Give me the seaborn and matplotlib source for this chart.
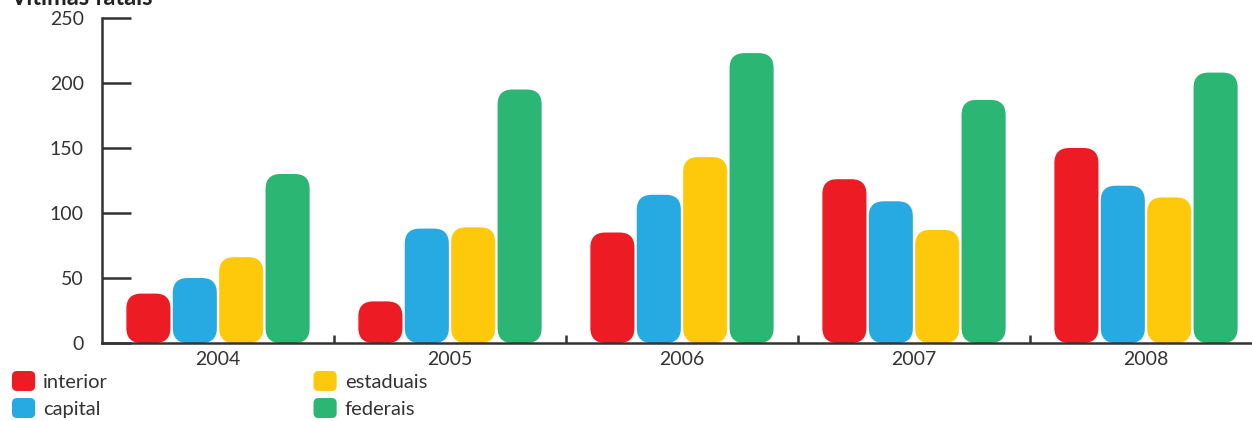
import pandas as pd
import seaborn as sns
import matplotlib.pyplot as plt
from matplotlib.patches import FancyBboxPatch
from matplotlib.legend_handler import HandlerPatch
from matplotlib.ticker import FixedLocator

years = ["2004", "2005", "2006", "2007", "2008"]
series = ["interior", "capital", "estaduais", "federais"]
interior = [38, 32, 85, 126, 150]
capital = [50, 88, 114, 109, 121]
estaduais = [66, 89, 143, 87, 112]
federais = [130, 195, 223, 187, 208]
colors = ["#ED1C24", "#27A9E1", "#FFC90B", "#2BB673"]

records = []
for name, vals in zip(series, [interior, capital, estaduais, federais]):
    for y, v in zip(years, vals):
        records.append({"ano": y, "tipo": name, "valor": v})
df = pd.DataFrame(records)

sns.set_style("white")
plt.rcParams["font.family"] = ["Lato", "DejaVu Sans"]
text_color = "#333333"

W, H = 1252, 421
fig = plt.figure(figsize=(W / 100, H / 100), dpi=100)
ax = fig.add_axes([102 / W, (H - 343) / H, 1160 / W, 325 / H])

sns.barplot(data=df, x="ano", y="valor", hue="tipo", hue_order=series,
            palette=colors, width=0.8, gap=0.05, legend=False, ax=ax,
            edgecolor="none", saturation=1)

ax.set_xlim(-0.5, 4.5)
ax.set_ylim(0, 250)

# rounded bars: radius in pixels converted to both axis scales
px_x = 1 / 232.0
px_y = 250 / 325.0
aspect = px_y / px_x
radius = 15 * px_x
for p in list(ax.patches):
    x, y0 = p.get_x(), p.get_y()
    w, h = p.get_width(), p.get_height()
    fc = p.get_facecolor()
    p.remove()
    ax.add_patch(FancyBboxPatch((x, y0), w, h,
                                boxstyle=f"round,pad=0,rounding_size={radius}",
                                mutation_aspect=aspect, facecolor=fc,
                                edgecolor="none", zorder=2))

for s in ["top", "right"]:
    ax.spines[s].set_visible(False)
for s in ["left", "bottom"]:
    ax.spines[s].set_color(text_color)
    ax.spines[s].set_linewidth(1.8)
    ax.spines[s].set_zorder(3)

ax.set_yticks([0, 50, 100, 150, 200, 250])
ax.tick_params(axis="y", direction="in", length=21, width=1.8, color=text_color,
               labelsize=14, labelcolor=text_color, pad=13, left=True)
ax.tick_params(axis="x", length=0, labelsize=14, labelcolor=text_color, pad=6)
ax.xaxis.set_minor_locator(FixedLocator([0.5, 1.5, 2.5, 3.5]))
ax.tick_params(axis="x", which="minor", direction="in", length=6, width=1.8,
               color=text_color, bottom=True)
ax.set_xlabel("")
ax.set_ylabel("")


class RoundSquare(HandlerPatch):
    def create_artists(self, legend, orig_handle, xdescent, ydescent,
                       width, height, fontsize, trans):
        r = 0.25 * min(width, height)
        p = FancyBboxPatch((-xdescent, -ydescent), width, height,
                           boxstyle=f"round,pad=0,rounding_size={r}",
                           facecolor=orig_handle.get_facecolor(),
                           edgecolor="none", transform=trans)
        return [p]


handles = [plt.Rectangle((0, 0), 1, 1, facecolor=c) for c in colors]
fig.legend(handles, series, loc="upper left", ncol=2,
           bbox_to_anchor=(12 / W, 1 - 371 / H), frameon=False,
           borderpad=0, borderaxespad=0,
           fontsize=14.5, labelcolor=text_color,
           handlelength=1.15, handleheight=1.15, handletextpad=0.4,
           columnspacing=10.2, labelspacing=0.35,
           handler_map={plt.Rectangle: RoundSquare()})

fig.text(153 / W, 1 - 5 / H, "Vítimas fatais", ha="right", va="baseline",
         fontsize=17, fontweight="bold", color="#222222")

fig.savefig("out.png", dpi=100)
